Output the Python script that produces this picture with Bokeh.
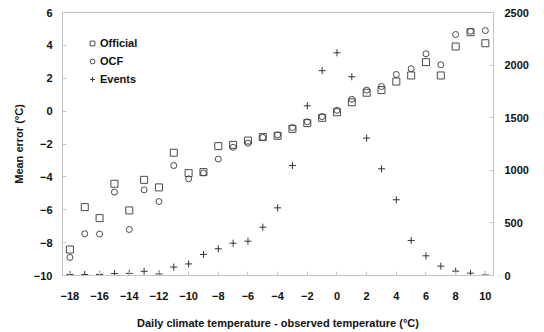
from bokeh.plotting import figure
from bokeh.models import (Range1d, LinearAxis, FixedTicker, Legend, LegendItem)
from bokeh.embed import file_html
from bokeh.resources import INLINE

# ---- data ----
temp_diff = [-18, -17, -16, -15, -14, -13, -12, -11, -10, -9, -8, -7, -6, -5, -4,
             -3, -2, -1, 0, 1, 2, 3, 4, 5, 6, 7, 8, 9, 10]
official = [-8.42, -5.84, -6.51, -4.42, -6.04, -4.18, -4.64, -2.53, -3.77, -3.71, -2.13,
            -2.05, -1.79, -1.58, -1.50, -1.08, -0.73, -0.41, -0.07, 0.54, 1.12, 1.28,
            1.80, 2.17, 2.98, 2.17, 3.93, 4.80, 4.13]
ocf = [-8.90, -7.46, -7.48, -4.93, -7.20, -4.79, -5.50, -3.31, -4.12, -3.76, -2.92,
       -2.20, -1.95, -1.60, -1.45, -1.00, -0.65, -0.33, 0.05, 0.72, 1.28, 1.50,
       2.23, 2.58, 3.49, 2.82, 4.66, 4.86, 4.90]
events = [10, 10, 10, 18, 20, 40, 15, 80, 110, 200, 254, 307, 326, 459, 643,
          1046, 1613, 1947, 2117, 1889, 1306, 1014, 720, 333, 187, 89, 41, 22, 5]

x_ticks = [-18, -16, -14, -12, -10, -8, -6, -4, -2, 0, 2, 4, 6, 8, 10]
y_ticks = [-10, -8, -6, -4, -2, 0, 2, 4, 6]
events_ticks = [0, 500, 1000, 1500, 2000, 2500]

FONT = "Liberation Sans"
MARK = "#4a4a4a"
FRAME = "#c4c4c4"

p = figure(width=544, height=332, output_backend="svg", toolbar_location=None,
           x_range=Range1d(-18.5, 10.55), y_range=Range1d(-10, 6),
           min_border_left=62, min_border_right=51, min_border_top=12,
           min_border_bottom=57)
p.extra_y_ranges = {"events": Range1d(0, 2500)}
p.xgrid.visible = False
p.ygrid.visible = False
p.outline_line_color = FRAME
p.outline_line_width = 1
p.background_fill_color = "white"
p.border_fill_color = "white"

r_off = p.scatter(temp_diff, official, marker="square", size=7, fill_color=None,
                  line_color=MARK, line_width=1)
r_ocf = p.scatter(temp_diff, ocf, marker="circle", size=6, fill_color=None,
                  line_color=MARK, line_width=1)
r_ev = p.scatter(temp_diff, events, marker="cross", size=7, line_color="#333333",
                 line_width=1, y_range_name="events")

def style_axis(ax, standoff):
    ax.axis_line_color = FRAME
    ax.major_tick_line_color = FRAME
    ax.major_tick_in = 4
    ax.major_tick_out = 0
    ax.minor_tick_line_color = None
    ax.major_label_text_font = FONT
    ax.major_label_text_font_style = "bold"
    ax.major_label_text_font_size = "11px"
    ax.major_label_text_color = "#111111"
    ax.major_label_standoff = standoff
    ax.axis_label_text_font = FONT
    ax.axis_label_text_font_style = "bold"
    ax.axis_label_text_font_size = "11px"
    ax.axis_label_text_color = "#111111"

xa = p.xaxis[0]
xa.ticker = FixedTicker(ticks=x_ticks)
xa.axis_label = "Daily climate temperature - observed temperature (°C)"
style_axis(xa, 16)
xa.axis_label_standoff = 14

ya = p.yaxis[0]
ya.ticker = FixedTicker(ticks=y_ticks)
ya.axis_label = "Mean error (°C)"
style_axis(ya, 10)
ya.axis_label_standoff = 6

ra = LinearAxis(y_range_name="events", ticker=FixedTicker(ticks=events_ticks))
style_axis(ra, 11)
p.add_layout(ra, "right")

legend = Legend(items=[LegendItem(label="Official", renderers=[r_off]),
                       LegendItem(label="OCF", renderers=[r_ocf]),
                       LegendItem(label="Events", renderers=[r_ev])],
                location="top_left", margin=24, padding=0, spacing=4,
                glyph_width=12, glyph_height=14, label_height=12, label_standoff=2,
                label_text_font=FONT, label_text_font_style="bold",
                label_text_font_size="11px", label_text_color="#111111",
                border_line_color=None, background_fill_alpha=0)
p.add_layout(legend)

open("out.html", "w").write(file_html(p, INLINE))
